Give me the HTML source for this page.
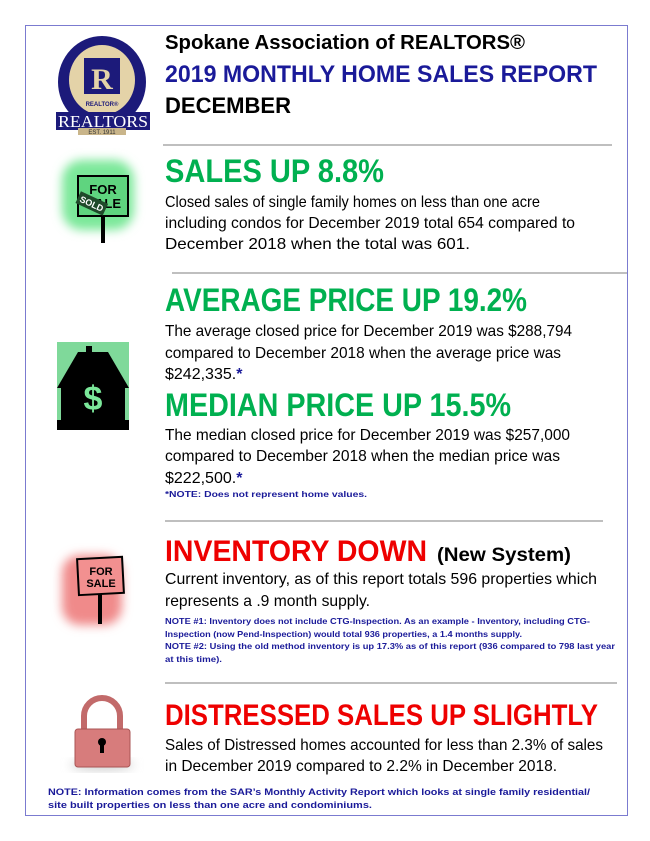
<!DOCTYPE html>
<html><head><meta charset="utf-8"><style>
html,body{margin:0;padding:0;background:#fff;}
svg{display:block;font-family:"Liberation Sans",sans-serif;}
</style></head><body>
<svg width="650" height="841" viewBox="0 0 650 841">
<defs>
<filter id="blur" x="-30%" y="-30%" width="160%" height="160%"><feGaussianBlur stdDeviation="5"/></filter>
</defs>
<rect x="25.5" y="25.5" width="602" height="790" fill="#fff" stroke="#7b7bd0" stroke-width="1"/>

<!-- logo -->
<g>
<ellipse cx="102" cy="82" rx="44" ry="46" fill="#1c1a7a"/>
<ellipse cx="102" cy="80" rx="33" ry="35" fill="#e4d3a8"/>
<rect x="84" y="58" width="36" height="36" fill="#1c1a7a"/>
<text x="102" y="89" font-size="30" font-weight="bold" fill="#e4d3a8" text-anchor="middle" font-family="Liberation Serif,serif">R</text>
<text x="102" y="106" font-size="6" font-weight="bold" fill="#1c1a7a" text-anchor="middle">REALTOR®</text>
<rect x="56" y="112" width="94" height="18" fill="#1c1a7a"/>
<text x="103" y="127" font-size="17" fill="#fff" text-anchor="middle" textLength="90" lengthAdjust="spacingAndGlyphs" font-family="Liberation Serif,serif">REALTORS</text>
<rect x="78" y="128" width="48" height="7" fill="#c9b58a"/>
<text x="102" y="134" font-size="6" fill="#333" text-anchor="middle">EST. 1911</text>
</g>

<text x="165" y="49" font-size="20" font-weight="bold" fill="#000" textLength="360" lengthAdjust="spacingAndGlyphs">Spokane Association of REALTORS®</text>
<text x="165" y="82" font-size="24" font-weight="bold" fill="#1a1a99" textLength="432" lengthAdjust="spacingAndGlyphs">2019 MONTHLY HOME SALES REPORT</text>
<text x="165" y="113" font-size="22" font-weight="bold" fill="#000" textLength="126" lengthAdjust="spacingAndGlyphs">DECEMBER</text>

<line x1="163" y1="145" x2="612" y2="145" stroke="#999" stroke-width="1.2"/>

<!-- sold sign -->
<g>
<rect x="62" y="160" width="72" height="70" rx="20" fill="#7be89a" filter="url(#blur)"/>
<rect x="78" y="176" width="50" height="40" fill="#5fd47f" stroke="#000" stroke-width="2"/>
<text x="103" y="194" font-size="13" font-weight="bold" text-anchor="middle" fill="#000">FOR</text>
<text x="108" y="208" font-size="13" font-weight="bold" text-anchor="middle" fill="#000">ALE</text>
<rect x="77" y="197" width="30" height="13" fill="#1f4a2a" transform="rotate(25 92 203)"/>
<text x="92" y="207" font-size="9" font-weight="bold" fill="#fff" text-anchor="middle" transform="rotate(25 92 203)">SOLD</text>
<rect x="101" y="216" width="4" height="27" fill="#000"/>
</g>

<text x="165" y="182" font-size="32" font-weight="bold" fill="#00b050" textLength="219" lengthAdjust="spacingAndGlyphs">SALES UP 8.8%</text>
<g font-size="16" fill="#000">
<text x="165" y="207" textLength="375" lengthAdjust="spacingAndGlyphs">Closed sales of single family homes on less than one acre</text>
<text x="165" y="228" textLength="410" lengthAdjust="spacingAndGlyphs">including condos for December 2019 total 654 compared to</text>
<text x="165" y="249" textLength="305" lengthAdjust="spacingAndGlyphs">December 2018 when the total was 601.</text>
</g>

<line x1="172" y1="273" x2="627" y2="273" stroke="#999" stroke-width="1.2"/>

<!-- house icon -->
<g>
<rect x="57" y="342" width="72" height="84" fill="#7fd99a"/>
<polygon points="57,388 78,352 86,352 86,346 92,346 92,352 108,352 129,388 125,388 125,430 61,430 61,388" fill="#000"/>
<rect x="57" y="420" width="72" height="10" fill="#000"/>
<text x="93" y="410" font-size="34" font-weight="bold" fill="#7be89a" text-anchor="middle">$</text>
</g>

<text x="165" y="311" font-size="32" font-weight="bold" fill="#00b050" textLength="362" lengthAdjust="spacingAndGlyphs">AVERAGE PRICE UP 19.2%</text>
<g font-size="16" fill="#000">
<text x="165" y="336" textLength="407" lengthAdjust="spacingAndGlyphs">The average closed price for December 2019 was $288,794</text>
<text x="165" y="358" textLength="396" lengthAdjust="spacingAndGlyphs">compared to December 2018 when the average price was</text>
<text x="165" y="379">$242,335.<tspan fill="#1a1a99" font-weight="bold">*</tspan></text>
</g>

<text x="165" y="416" font-size="32" font-weight="bold" fill="#00b050" textLength="346" lengthAdjust="spacingAndGlyphs">MEDIAN PRICE UP 15.5%</text>
<g font-size="16" fill="#000">
<text x="165" y="440" textLength="405" lengthAdjust="spacingAndGlyphs">The median closed price for December 2019 was $257,000</text>
<text x="165" y="461" textLength="395" lengthAdjust="spacingAndGlyphs">compared to December 2018 when the median price was</text>
<text x="165" y="483">$222,500.<tspan fill="#1a1a99" font-weight="bold">*</tspan></text>
</g>
<text x="165" y="497" font-size="8.5" font-weight="bold" fill="#1a1a99" textLength="202" lengthAdjust="spacingAndGlyphs">*NOTE:  Does not represent home values.</text>

<line x1="165" y1="521" x2="603" y2="521" stroke="#999" stroke-width="1.2"/>

<!-- for sale sign red -->
<g>
<rect x="62" y="555" width="60" height="70" rx="18" fill="#f08a8a" filter="url(#blur)"/>
<rect x="78" y="558" width="45" height="36" fill="#f29090" stroke="#000" stroke-width="2" transform="rotate(-3 100 576)"/>
<text x="101" y="575" font-size="11" font-weight="bold" text-anchor="middle" fill="#000">FOR</text>
<text x="101" y="587" font-size="11" font-weight="bold" text-anchor="middle" fill="#000">SALE</text>
<rect x="98" y="594" width="4" height="30" fill="#000"/>
</g>

<text x="165" y="561" font-size="30" font-weight="bold" fill="#ee0000" textLength="262" lengthAdjust="spacingAndGlyphs">INVENTORY DOWN</text>
<text x="437" y="561" font-size="19" font-weight="bold" fill="#000" textLength="134" lengthAdjust="spacingAndGlyphs">(New System)</text>
<g font-size="16" fill="#000">
<text x="165" y="584" textLength="432" lengthAdjust="spacingAndGlyphs">Current inventory, as of this report totals 596 properties which</text>
<text x="165" y="606" textLength="205" lengthAdjust="spacingAndGlyphs">represents a .9 month supply.</text>
</g>
<g font-size="8.5" font-weight="bold" fill="#1a1a99">
<text x="165" y="624" textLength="425" lengthAdjust="spacingAndGlyphs">NOTE #1:  Inventory does not include CTG-Inspection.  As an example - Inventory, including CTG-</text>
<text x="165" y="637" textLength="357" lengthAdjust="spacingAndGlyphs">Inspection (now Pend-Inspection) would total 936 properties, a 1.4 months supply.</text>
<text x="165" y="649" textLength="450" lengthAdjust="spacingAndGlyphs">NOTE #2:  Using the old method inventory is up 17.3% as of this report (936 compared to 798 last year</text>
<text x="165" y="662" textLength="57" lengthAdjust="spacingAndGlyphs">at this time).</text>
</g>

<line x1="165" y1="683" x2="617" y2="683" stroke="#999" stroke-width="1.2"/>

<!-- lock -->
<g>
<ellipse cx="102" cy="765" rx="32" ry="5" fill="#ccc" filter="url(#blur)"/>
<path d="M84,731 V716 A18,18 0 0 1 120,716 V731" fill="none" stroke="#c26a6a" stroke-width="6"/>
<rect x="75" y="729" width="55" height="38" rx="3" fill="#d77c7c" stroke="#a55" stroke-width="1"/>
<circle cx="102" cy="742" r="4" fill="#000"/>
<rect x="100" y="743" width="4" height="10" fill="#000"/>
</g>

<text x="165" y="725" font-size="30" font-weight="bold" fill="#ee0000" textLength="433" lengthAdjust="spacingAndGlyphs">DISTRESSED SALES UP SLIGHTLY</text>
<g font-size="16" fill="#000">
<text x="165" y="750" textLength="438" lengthAdjust="spacingAndGlyphs">Sales of Distressed homes accounted for less than 2.3% of sales</text>
<text x="165" y="771" textLength="392" lengthAdjust="spacingAndGlyphs">in December 2019 compared to 2.2% in December 2018.</text>
</g>
<g font-size="9" font-weight="bold" fill="#1a1a99">
<text x="48" y="795" textLength="542" lengthAdjust="spacingAndGlyphs">NOTE:  Information comes from the SAR’s Monthly Activity Report which looks at single family residential/</text>
<text x="48" y="808" textLength="324" lengthAdjust="spacingAndGlyphs">site built properties on less than one acre and condominiums.</text>
</g>
</svg>
</body></html>
